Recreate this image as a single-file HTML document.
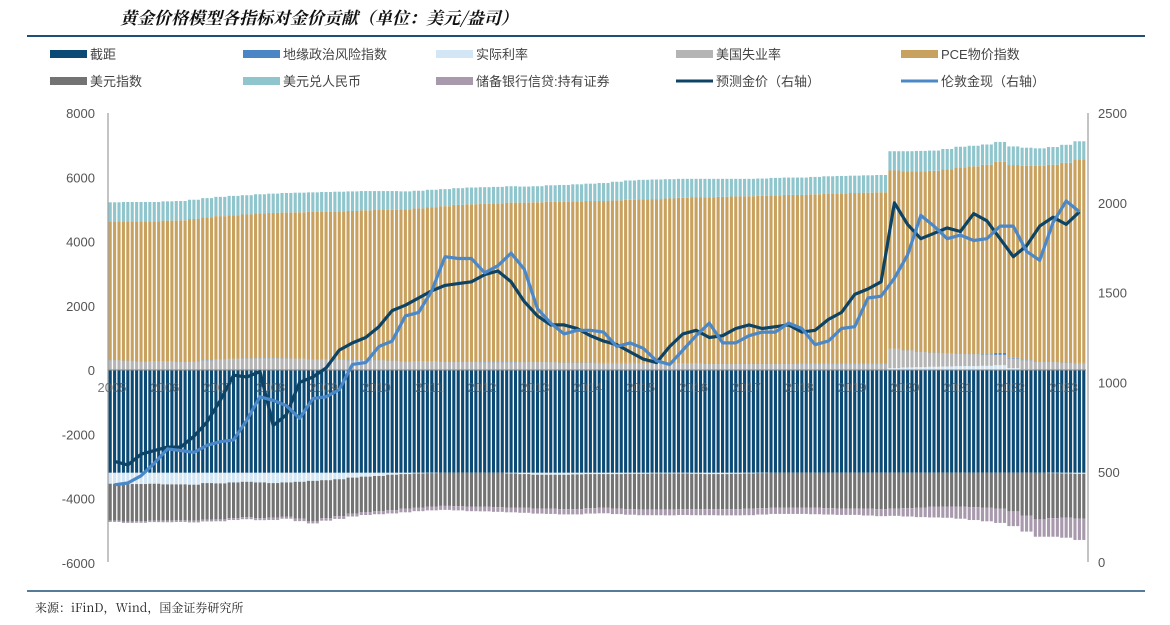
<!DOCTYPE html>
<html><head><meta charset="utf-8">
<style>
body{margin:0;background:#fff;width:1170px;height:625px;overflow:hidden;font-family:"Liberation Sans","Noto Sans CJK SC",sans-serif;}
svg{display:block}
</style></head>
<body>
<svg id="chart" width="1170" height="625" xmlns="http://www.w3.org/2000/svg">
<text x="120" y="24" font-family="'Noto Serif CJK SC','Noto Sans CJK SC',serif" font-size="17" font-weight="bold" font-style="italic" fill="#111">黄金价格模型各指标对金价贡献（单位：美元/盎司）</text>
<line x1="27" y1="36" x2="1145" y2="36" stroke="#1f4e79" stroke-width="2"/>
<line x1="27" y1="591" x2="1145" y2="591" stroke="#1f4e79" stroke-width="1.5"/>
<text x="35" y="612" font-family="'Noto Serif CJK SC','Noto Sans CJK SC',serif" font-size="12" fill="#222">来源：iFinD，Wind，国金证券研究所</text>
<g id="legend"></g>
<g id="bars"></g>
<g id="axes"></g>
<g id="lines"></g>
</svg>
<script>
// Quarterly data (74 points)
const years = ['2005','2006','2007','2008','2009','2010','2011','2012','2013','2014','2015','2016','2017','2018','2019','2020','2021','2022','2023'];
const leftTicks = [8000,6000,4000,2000,0,-2000,-4000,-6000];
const rightTicks = [2500,2000,1500,1000,500,0];
const intercept = [-3200,-3200,-3200,-3200,-3200,-3200,-3200,-3200,-3200,-3200,-3200,-3200,-3200,-3200,-3200,-3200,-3200,-3200,-3200,-3200,-3200,-3200,-3200,-3200,-3200,-3200,-3200,-3200,-3200,-3200,-3200,-3200,-3200,-3200,-3200,-3200,-3200,-3200,-3200,-3200,-3200,-3200,-3200,-3200,-3200,-3200,-3200,-3200,-3200,-3200,-3200,-3200,-3200,-3200,-3200,-3200,-3200,-3200,-3200,-3200,-3200,-3200,-3200,-3200,-3200,-3200,-3200,-3200,-3200,-3200,-3200,-3200,-3200,-3200];
const realRate = [-340,-350,-350,-340,-360,-360,-370,-320,-330,-300,-280,-300,-320,-300,-280,-250,-230,-200,-150,-120,-100,-60,-40,-20,-10,0,0,0,0,0,-20,-40,-60,-60,-60,-50,-40,-40,-40,-30,-30,-20,-20,-20,-30,-40,-40,-30,-20,-10,0,0,0,0,0,0,0,0,0,60,80,90,100,110,120,120,130,150,60,20,0,-10,-20,-30];
const unemployment = [290,280,270,260,260,250,270,300,320,340,350,360,360,350,340,330,320,310,300,300,290,280,270,260,260,250,250,250,240,240,240,230,230,230,220,220,220,210,210,210,200,200,200,200,200,190,190,190,190,190,190,190,180,180,180,180,180,180,180,590,520,470,430,400,380,360,340,320,300,280,250,230,220,210];
const geoRisk = [10,10,10,10,10,10,10,10,10,10,10,10,10,10,10,10,10,10,10,10,10,10,10,10,10,10,10,10,10,10,10,10,10,10,10,10,10,10,10,10,10,10,10,10,10,10,10,10,10,10,10,10,10,10,10,10,10,10,10,10,10,10,10,10,10,10,20,60,20,10,10,10,10,10];
const pce = [4320,4340,4350,4360,4380,4400,4420,4440,4460,4470,4480,4500,4520,4540,4560,4580,4600,4620,4640,4660,4680,4700,4720,4760,4800,4840,4880,4900,4920,4940,4960,4970,4980,5000,5010,5020,5030,5040,5060,5080,5100,5110,5130,5150,5160,5180,5190,5200,5210,5220,5240,5250,5260,5280,5300,5310,5320,5330,5340,5550,5580,5620,5660,5720,5800,5850,5900,5950,6000,6050,6100,6150,6220,6330];
const usdCny = [600,600,600,600,600,600,600,600,600,600,600,600,600,610,610,610,610,610,610,600,590,580,560,550,540,530,520,520,520,510,510,500,500,510,520,530,540,560,580,600,610,610,600,590,580,570,560,550,540,540,540,540,540,540,540,540,540,540,540,600,620,630,630,640,640,640,630,620,580,560,540,550,560,570];
const usdIndex = [-1150,-1170,-1160,-1150,-1130,-1120,-1120,-1140,-1120,-1110,-1100,-1110,-1080,-1060,-1150,-1250,-1180,-1150,-1120,-1100,-1090,-1100,-1080,-1060,-1040,-1030,-1040,-1060,-1060,-1070,-1060,-1050,-1050,-1060,-1070,-1080,-1060,-1050,-1070,-1100,-1110,-1120,-1120,-1110,-1100,-1090,-1090,-1100,-1100,-1090,-1080,-1080,-1080,-1090,-1100,-1110,-1110,-1120,-1130,-1110,-1100,-1080,-1060,-1050,-1050,-1070,-1090,-1120,-1200,-1330,-1450,-1400,-1380,-1400];
const holdings = [-40,-40,-45,-45,-50,-50,-55,-55,-60,-60,-65,-65,-70,-70,-75,-75,-80,-85,-90,-95,-100,-105,-110,-115,-120,-125,-130,-135,-140,-145,-150,-155,-160,-160,-165,-165,-170,-170,-175,-175,-180,-180,-185,-185,-190,-190,-195,-195,-200,-200,-200,-200,-200,-200,-200,-200,-200,-210,-220,-230,-260,-300,-330,-350,-380,-400,-420,-440,-460,-500,-540,-580,-620,-660];
const londonGold = [430,440,480,550,630,620,610,650,670,680,790,920,900,870,800,910,920,960,1100,1110,1200,1230,1370,1390,1510,1700,1690,1690,1610,1650,1720,1630,1410,1330,1270,1290,1290,1280,1200,1220,1190,1120,1100,1180,1260,1330,1220,1220,1260,1280,1280,1330,1300,1210,1230,1300,1310,1470,1480,1580,1710,1930,1870,1800,1820,1790,1800,1870,1870,1730,1680,1890,2010,1950];
const predictedGold = [560,540,600,620,640,640,700,780,900,1040,1030,1060,760,820,1000,1030,1080,1180,1220,1250,1310,1400,1430,1470,1510,1540,1550,1560,1600,1620,1560,1450,1370,1320,1320,1300,1260,1230,1210,1170,1130,1110,1200,1270,1290,1250,1260,1300,1320,1300,1310,1320,1280,1290,1350,1390,1490,1520,1560,2000,1880,1800,1830,1860,1840,1940,1900,1800,1700,1760,1870,1920,1880,1950];

const NS='http://www.w3.org/2000/svg';
const X0=108, X1=1086, N=londonGold.length;
const step=(X1-X0)/N;
const yL=v=>370 - v*(370-113)/8000;
const yR=v=>562 - v*(562-113)/2500;
const xC=i=>X0+step*(i+0.5);
function mk(tag,attrs,parent){const e=document.createElementNS(NS,tag);for(const k in attrs)e.setAttribute(k,attrs[k]);parent.appendChild(e);return e;}

const C={intercept:'#0b4a75',geo:'#4a86c5',real:'#d3e6f5',unemp:'#b4b4b4',pce:'#c9a15e',dxy:'#737373',cny:'#8fc5cc',hold:'#a899ad'};
const bars=document.getElementById('bars');
const sub=step/3;
for(let i=0;i<intercept.length;i++){
  const pos=[['real',Math.max(realRate[i],0)],['unemp',unemployment[i]],['geo',geoRisk[i]],['pce',pce[i]],['cny',usdCny[i]]];
  const neg=[['intercept',intercept[i]],['real',Math.min(realRate[i],0)],['dxy',usdIndex[i]],['hold',holdings[i]]];
  for(let s=0;s<3;s++){
    const bw=sub-1.3, bx=X0+step*i+sub*s+0.65;
    let acc=0;
    for(const [k,v] of pos){if(v<=0)continue;const r=mk('rect',{x:bx,y:yL(acc+v),width:bw,height:yL(acc)-yL(acc+v),fill:C[k]},bars);
      
      acc+=v;}
    acc=0;
    for(const [k,v] of neg){if(v>=0)continue;const r=mk('rect',{x:bx,y:yL(acc),width:bw,height:yL(acc+v)-yL(acc),fill:C[k]},bars);
      
      acc+=v;}
  }
}
const axes=document.getElementById('axes');
mk('line',{x1:X0,y1:113,x2:X0,y2:562,stroke:'#888','stroke-width':1},axes);
mk('line',{x1:X1+2,y1:113,x2:X1+2,y2:562,stroke:'#888','stroke-width':1},axes);
mk('line',{x1:X0,y1:370,x2:X1,y2:370,stroke:'#888','stroke-width':1},axes);
leftTicks.forEach(v=>{const t=mk('text',{x:95,y:yL(v)+5,'text-anchor':'end','font-size':13,fill:'#555'},axes);t.textContent=v;
  
  });
rightTicks.forEach(v=>{const t=mk('text',{x:1098,y:yR(v)+5,'font-size':13,fill:'#555'},axes);t.textContent=v;
  
  });
years.forEach((y,i)=>{const t=mk('text',{x:X0+step*4*i+4,y:392,'text-anchor':'middle','font-size':13,fill:'#5a5a5a','fill-opacity':0.8},axes);t.textContent=y;
  
  });

const lines=document.getElementById('lines');
function line(arr,color,name){const d=arr.map((v,i)=>(i?'L':'M')+xC(i).toFixed(1)+','+yR(v).toFixed(1)).join('');
  const p=mk('path',{d:d,fill:'none',stroke:color,'stroke-width':3.2,'stroke-linejoin':'round'},lines);
  
  }
line(predictedGold,'#0d4466','predicted-gold-line');
line(londonGold,'#4b88c8','london-gold-line');

const legend=document.getElementById('legend');
const items=[['截距',C.intercept,50,55,'bar'],['地缘政治风险指数',C.geo,243,55,'bar'],['实际利率',C.real,436,55,'bar'],['美国失业率',C.unemp,676,55,'bar'],['PCE物价指数',C.pce,901,55,'bar'],
['美元指数',C.dxy,50,82,'bar'],['美元兑人民币',C.cny,243,82,'bar'],['储备银行信贷:持有证券',C.hold,436,82,'bar'],['预测金价（右轴）','#0d4466',676,82,'line'],['伦敦金现（右轴）','#4b88c8',901,82,'line']];
items.forEach(([lab,col,x,y,type])=>{
  const g=mk('g',{},legend);
  
  
  if(type==='bar')mk('rect',{x:x,y:y-5,width:37,height:8,fill:col},g);
  else mk('line',{x1:x,y1:y-1,x2:x+37,y2:y-1,stroke:col,'stroke-width':3},g);
  const t=mk('text',{x:x+40,y:y+4,'font-size':13,fill:'#444'},g);t.textContent=lab;
});
</script>
</body></html>
